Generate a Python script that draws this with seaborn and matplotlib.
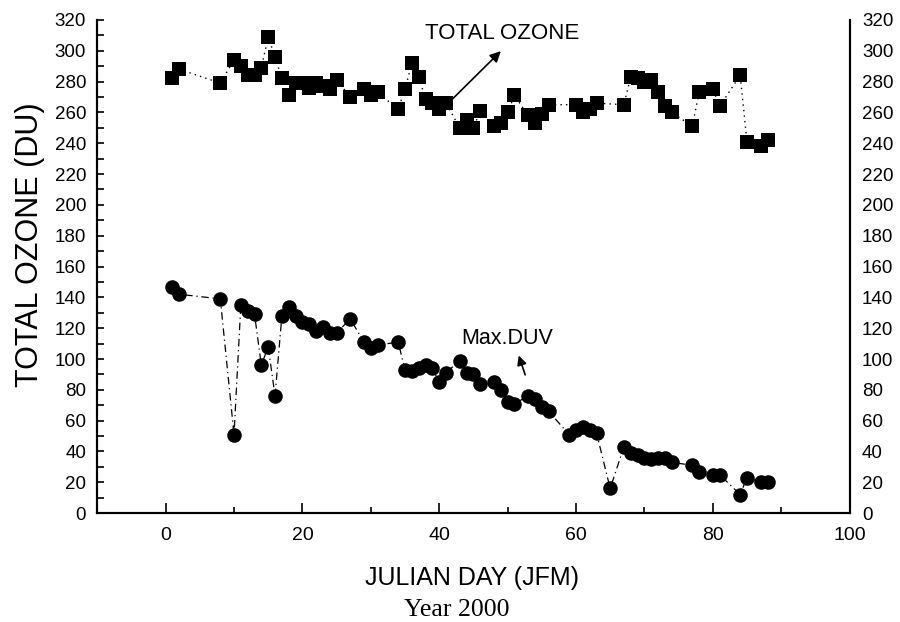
import matplotlib.pyplot as plt
import pandas as pd
import seaborn as sns
from matplotlib.ticker import MultipleLocator

# data --------------------------------------------------------------------
oz_day = [1, 2, 8, 10, 11, 12, 13, 14, 15, 16, 17, 18, 19, 20, 21, 22, 23, 24, 25, 27,
          29, 30, 31, 34, 35, 36, 37, 38, 39, 40, 41, 43, 44, 45, 46, 48, 49, 50, 51, 53,
          54, 55, 56, 60, 61, 62, 63, 67, 68, 69, 70, 71, 72, 73, 74, 77, 78, 80, 81, 84,
          85, 87, 88]
oz_val = [282, 288, 279, 294, 290, 284, 284, 289, 309, 296, 282, 271, 279, 279, 276, 279, 277, 275, 281, 270,
          275, 271, 273, 262, 275, 292, 283, 269, 266, 262, 266, 250, 255, 250, 261, 251, 253, 260, 271, 258,
          253, 259, 265, 265, 260, 262, 266, 265, 283, 282, 280, 281, 273, 264, 260, 251, 273, 275, 264, 284,
          241, 238, 242]

duv_day = [1, 2, 8, 10, 11, 12, 13, 14, 15, 16, 17, 18, 19, 20, 21, 22, 23, 24, 25, 27,
           29, 30, 31, 34, 35, 36, 37, 38, 39, 40, 41, 43, 44, 45, 46, 48, 49, 50, 51, 53,
           54, 55, 56, 59, 60, 61, 62, 63, 65, 67, 68, 69, 70, 71, 72, 73, 74, 77, 78, 80,
           81, 84, 85, 87, 88]
duv_val = [147, 142, 139, 51, 135, 131, 129, 96, 108, 76, 128, 134, 128, 124, 123, 118, 121, 117, 117, 126,
           111, 107, 109, 111, 93, 92, 94, 96, 94, 85, 91, 99, 91, 90, 84, 85, 80, 72, 71, 76,
           74, 69, 66, 51, 54, 56, 54, 52, 16, 43, 39, 38, 36, 35, 36, 36, 33, 31, 27, 25,
           25, 12, 23, 20, 20]

oz = pd.DataFrame({'day': oz_day, 'val': oz_val})
duv = pd.DataFrame({'day': duv_day, 'val': duv_val})

sns.set_theme(style='ticks')
plt.rcParams['font.family'] = ['Liberation Sans', 'DejaVu Sans']
plt.rcParams['axes.linewidth'] = 1.5
for k in ['text.color', 'axes.labelcolor', 'xtick.color', 'ytick.color', 'axes.edgecolor']:
    plt.rcParams[k] = 'black'

fig = plt.figure(figsize=(9, 6.22), dpi=100)
ax = fig.add_axes([0.108, 0.175, 0.836, 0.793])

sns.lineplot(data=oz, x='day', y='val', ax=ax, color='black', lw=1, linestyle=(0, (1, 3)))
sns.scatterplot(data=oz, x='day', y='val', ax=ax, marker='s', s=95, color='black',
                edgecolor='black', linewidth=0, zorder=3)
sns.lineplot(data=duv, x='day', y='val', ax=ax, color='black', lw=0.9, linestyle=(0, (6, 3, 1, 3)))
sns.scatterplot(data=duv, x='day', y='val', ax=ax, marker='o', s=110, color='black',
                edgecolor='black', linewidth=0, zorder=3)

ax.set_xlim(-10, 100)
ax.set_ylim(0, 320)
ax.xaxis.set_major_locator(MultipleLocator(20))
ax.xaxis.set_minor_locator(MultipleLocator(10))
ax.yaxis.set_major_locator(MultipleLocator(20))
ax.yaxis.set_minor_locator(MultipleLocator(10))
ax.spines['top'].set_visible(False)

ax.set_xlabel('')
ax.set_ylabel('TOTAL OZONE (DU)', fontsize=22)
ax.yaxis.set_label_coords(-0.07, 0.544)

ax2 = ax.twinx()
ax2.set_ylim(0, 320)
ax2.yaxis.set_major_locator(MultipleLocator(20))
ax2.tick_params(axis='y', which='both', left=False, right=True, length=0, labelright=True,
                pad=9, labelsize=13.5)
ax2.spines['top'].set_visible(False)

ax.tick_params(axis='x', which='major', direction='in', length=7, width=1.2, pad=10,
               labelsize=14)
ax.tick_params(axis='x', which='minor', direction='in', length=4, width=1.2)
ax.tick_params(axis='y', which='both', direction='in', length=5, width=1.2, labelsize=13.5,
               pad=8, left=True, right=False)

fig.text(0.524, 0.071, 'JULIAN DAY (JFM)', ha='center', va='center', fontsize=18,
         fontstretch='condensed')
fig.text(0.508, 0.02, 'Year 2000', ha='center', va='center', fontsize=18.5,
         family=['Liberation Serif', 'DejaVu Serif'])

ax.annotate('', xy=(49.3, 301), xytext=(41.1, 265),
            arrowprops=dict(arrowstyle='-|>', color='black', lw=1.2, mutation_scale=16))
ax.text(49.2, 311.5, 'TOTAL OZONE', ha='center', va='center', fontsize=16)
ax.annotate('', xy=(51.5, 104), xytext=(52.7, 88),
            arrowprops=dict(arrowstyle='-|>', color='black', lw=1.2, mutation_scale=14))
ax.text(50, 113.5, 'Max.DUV', ha='center', va='center', fontsize=15.5)

fig.savefig('out.png', dpi=100)
